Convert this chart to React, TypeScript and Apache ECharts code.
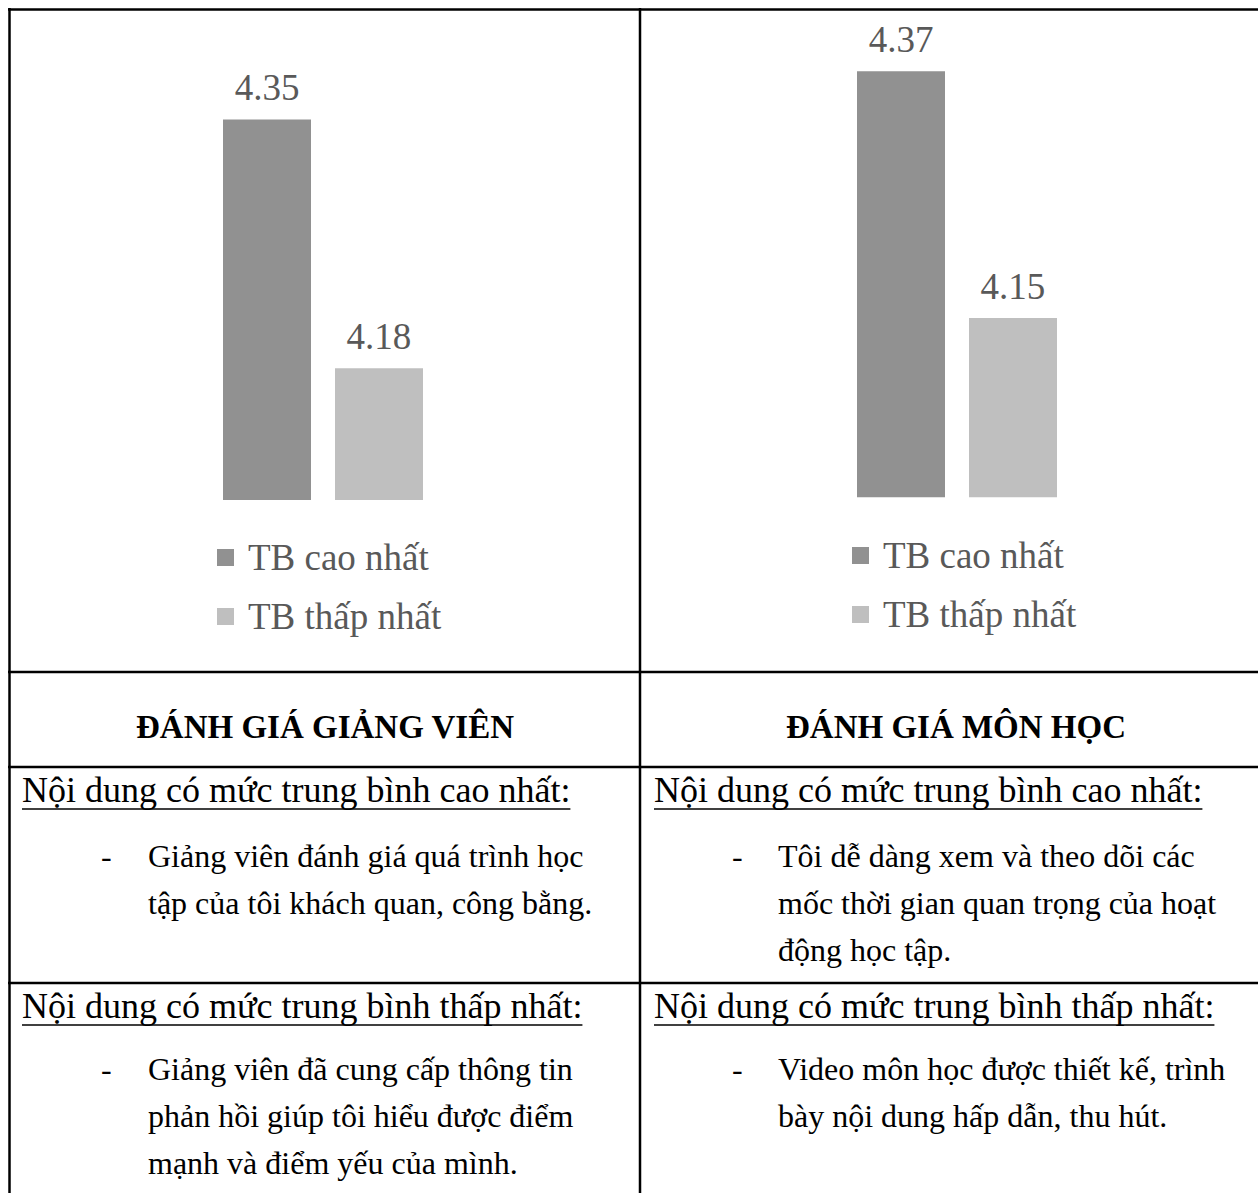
import React, { useEffect, useRef } from "react";
import * as echarts from "echarts";

const categories = ["ĐÁNH GIÁ GIẢNG VIÊN", "ĐÁNH GIÁ MÔN HỌC"];
const seriesNames = ["TB cao nhất", "TB thấp nhất"];
const highest = [4.35, 4.37];
const lowest = [4.18, 4.15];
const axisMin = [4.09, 3.99];
const axisMax = [4.4, 4.4];

const highHeader = "Nội dung có mức trung bình cao nhất:";
const lowHeader = "Nội dung có mức trung bình thấp nhất:";
const highItems = [
  ["Giảng viên đánh giá quá trình học", "tập của tôi khách quan, công bằng."],
  ["Tôi dễ dàng xem và theo dõi các", "mốc thời gian quan trọng của hoạt", "động học tập."],
];
const lowItems = [
  ["Giảng viên đã cung cấp thông tin", "phản hồi giúp tôi hiểu được điểm", "mạnh và điểm yếu của mình."],
  ["Video môn học được thiết kế, trình", "bày nội dung hấp dẫn, thu hút."],
];

const SERIF = "'Liberation Serif', 'Times New Roman', serif";
const HEADER_FONT = `36px ${SERIF}`;
const BODY_FONT = `32px ${SERIF}`;
const HEAD_FONT = `bold 33px ${SERIF}`;

function measure(text: string, font: string): number {
  const c = document.createElement("canvas").getContext("2d");
  if (!c) return text.length * 15;
  c.font = font;
  return c.measureText(text).width;
}

export default function App() {
  const ref = useRef<HTMLDivElement>(null);
  useEffect(() => {
    if (!ref.current) return;
    const chart = echarts.init(ref.current, undefined, { renderer: "svg" });

    const W = 1258;
    const H = 1193;
    const lineStyle = { stroke: "#000", lineWidth: 2.5 };
    const graphics: any[] = [];
    const hline = (y: number, x1: number, x2: number) =>
      graphics.push({ type: "line", shape: { x1, y1: y, x2, y2: y }, style: lineStyle, z: 10 });
    const vline = (x: number, y1: number, y2: number) =>
      graphics.push({ type: "line", shape: { x1: x, y1, x2: x, y2 }, style: lineStyle, z: 10 });

    hline(9.5, 8, W);
    hline(672, 8, W);
    hline(767, 8, W);
    hline(983, 8, W);
    vline(9.5, 8, H);
    vline(640, 8, H);

    const txt = (text: string, x: number, y: number, font: string, align = "left") =>
      graphics.push({
        type: "text",
        x,
        y,
        style: { text, font, fill: "#000", textAlign: align, textVerticalAlign: "middle" },
        z: 10,
      });

    const headCenters = [325, 956];
    categories.forEach((c, i) => txt(c, headCenters[i], 727, HEAD_FONT, "center"));

    const colLeft = [22, 654];
    const dashX = [101, 732];
    const itemX = [148, 778];
    const rows = [
      { header: highHeader, headerY: 790, items: highItems, firstY: 856 },
      { header: lowHeader, headerY: 1006, items: lowItems, firstY: 1069 },
    ];
    rows.forEach((r) => {
      [0, 1].forEach((col) => {
        txt(r.header, colLeft[col], r.headerY, HEADER_FONT);
        const w = measure(r.header, HEADER_FONT);
        graphics.push({
          type: "line",
          shape: { x1: colLeft[col], y1: r.headerY + 19, x2: colLeft[col] + w, y2: r.headerY + 19 },
          style: { stroke: "#000", lineWidth: 1.5 },
          z: 10,
        });
        txt("-", dashX[col], r.firstY, BODY_FONT);
        r.items[col].forEach((line, k) => txt(line, itemX[col], r.firstY + k * 47, BODY_FONT));
      });
    });

    const colors = ["#919191", "#bfbfbf"];
    const gridCenters = [323, 957];
    const gridBottoms = [500, 497.3];
    const pxPerUnit = [1463.5, 1121];
    const grids = gridCenters.map((c, i) => {
      const h = (axisMax[i] - axisMin[i]) * pxPerUnit[i];
      return { left: c - 150, width: 300, top: gridBottoms[i] - h, height: h };
    });

    const label = {
      show: true,
      position: "top",
      distance: 13,
      color: "#595959",
      fontFamily: SERIF,
      fontSize: 37,
      formatter: (p: any) => Number(p.value).toFixed(2),
    };

    const series: any[] = [];
    [0, 1].forEach((i) => {
      series.push({
        type: "bar",
        name: seriesNames[0],
        xAxisIndex: i,
        yAxisIndex: i,
        data: [highest[i]],
        barWidth: 88,
        barGap: "27.27%",
        itemStyle: { color: colors[0] },
        label,
      });
      series.push({
        type: "bar",
        name: seriesNames[1],
        xAxisIndex: i,
        yAxisIndex: i,
        data: [lowest[i]],
        barWidth: 88,
        barGap: "27.27%",
        itemStyle: { color: colors[1] },
        label,
      });
    });

    const legendLefts = [217, 852];
    const legendTops = [539, 537];

    chart.setOption({
      animation: false,
      backgroundColor: "#fff",
      grid: grids,
      xAxis: [0, 1].map((i) => ({
        type: "category",
        gridIndex: i,
        data: [categories[i]],
        show: false,
      })),
      yAxis: [0, 1].map((i) => ({
        type: "value",
        gridIndex: i,
        min: axisMin[i],
        max: axisMax[i],
        show: false,
      })),
      legend: [0, 1].map((i) => ({
        orient: "vertical",
        left: legendLefts[i],
        top: legendTops[i],
        padding: 0,
        data: seriesNames,
        icon: "rect",
        itemWidth: 17,
        itemHeight: 17,
        itemGap: 22,
        selectedMode: false,
        textStyle: {
          color: "#595959",
          fontFamily: SERIF,
          fontSize: 37,
          padding: [0, 0, 0, 9],
        },
      })),
      series,
      graphic: graphics,
    });

    return () => chart.dispose();
  }, []);

  return (
    <div
      ref={ref}
      style={{ position: "absolute", left: 0, top: 0, width: 1258, height: 1193, background: "#fff" }}
    />
  );
}
